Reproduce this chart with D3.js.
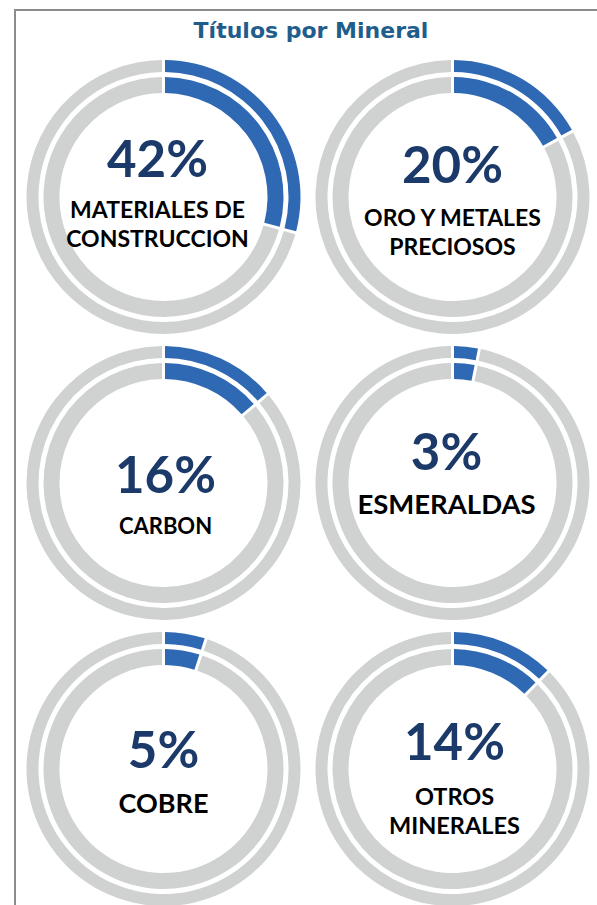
<!DOCTYPE html>
<html>
<head>
<meta charset="utf-8">
<script src="https://cdn.jsdelivr.net/npm/d3@7"></script>
<style>
  body { margin: 0; background: #fff; }
  svg { display: block; }
</style>
</head>
<body>
<svg id="chart"></svg>
<script>
// data
var minerals = ["MATERIALES DE|CONSTRUCCION", "ORO Y METALES|PRECIOSOS", "CARBON",
                "ESMERALDAS", "COBRE", "OTROS|MINERALES"];
var pctLabels = [42, 20, 16, 3, 5, 14];
// share drawn by the blue arc (it does not follow the label)
var ringShare = [0.29, 0.167, 0.134, 0.027, 0.046, 0.12];

var width = 597, height = 905;

var svg = d3.select("#chart")
  .attr("width", width)
  .attr("height", height);

// frame
svg.append("line")
  .attr("x1", 14).attr("x2", width).attr("y1", 10).attr("y2", 10)
  .attr("stroke", "#8c8c8c").attr("stroke-width", 2);
svg.append("line")
  .attr("x1", 15).attr("x2", 15).attr("y1", 9).attr("y2", height)
  .attr("stroke", "#8c8c8c").attr("stroke-width", 2);

svg.append("text")
  .attr("x", 311).attr("y", 38)
  .attr("text-anchor", "middle")
  .style("font-family", "'DejaVu Sans', sans-serif")
  .style("font-weight", 700)
  .style("font-size", "22px")
  .style("fill", "#1f5d8c")
  .text("Títulos por Mineral");

// grid of donuts
var colX = d3.scalePoint().domain([0, 1]).range([163.5, 452.5]);
var rowY = d3.scalePoint().domain([0, 1, 2]).range([197, 769]);

// per-donut text nudges [dx, percent dy, label dy, label size]
var textPos = [[-6, -20, 21, 23], [0, -14, 29, 23], [2, 10, 51, 22],
               [-6, -13, 31, 27.5], [0, -1, 44, 27], [2, -9, 36, 23.5]];

var color = d3.scaleOrdinal().domain(["on", "off"]).range(["#2f69b4", "#d0d1d1"]);

var pie = d3.pie().sort(null).value(function(d) { return d.v; }).padAngle(0.03);

var rings = [
  {inner: 125, outer: 137},
  {inner: 104, outer: 120}
];

minerals.forEach(function(name, i) {
  var g = svg.append("g")
    .attr("transform", "translate(" + colX(i % 2) + "," + rowY(Math.floor(i / 2)) + ")");

  var slices = pie([{k: "on", v: ringShare[i]}, {k: "off", v: 1 - ringShare[i]}]);

  rings.forEach(function(r) {
    var arc = d3.arc().innerRadius(r.inner).outerRadius(r.outer).padRadius(100);
    g.selectAll(null)
      .data(slices)
      .enter().append("path")
        .attr("d", arc)
        .attr("fill", function(d) { return color(d.data.k); });
  });

  var tp = textPos[i];
  g.append("text")
    .attr("x", tp[0]).attr("y", tp[1])
    .attr("text-anchor", "middle")
    .style("font-family", "Lato, sans-serif")
    .style("font-weight", 700)
    .style("font-size", "51px")
    .style("fill", "#1c3a69")
    .text(pctLabels[i] + "%");

  var lines = name.split("|");
  var lab = g.append("text")
    .attr("text-anchor", "middle")
    .style("font-family", "Lato, sans-serif")
    .style("font-weight", 700)
    .style("font-size", tp[3] + "px")
    .style("fill", "#000");
  lines.forEach(function(l, j) {
    lab.append("tspan")
      .attr("x", tp[0])
      .attr("y", tp[2] + j * 29)
      .text(l);
  });
});
</script>
</body>
</html>
